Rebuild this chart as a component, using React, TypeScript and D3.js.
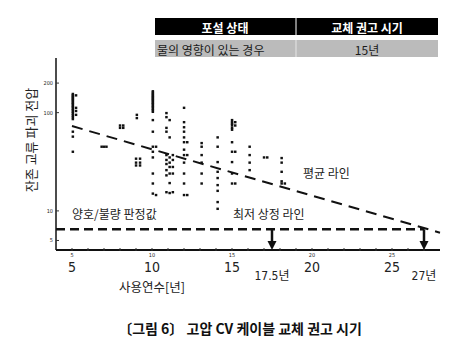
import React, { useRef, useEffect } from 'react';
import * as d3 from 'd3';

const W = 458;
const H = 351;
const font = "'Noto Sans CJK KR', 'Noto Sans', sans-serif";
const numFont = "'Liberation Sans Narrow', 'DejaVu Sans Condensed', 'Noto Sans CJK KR', sans-serif";

// table above the chart
const tableHeader = ['포설 상태', '교체 권고 시기'];
const tableRow = ['물의 영향이 있는 경우', '15년'];

// axes
const xTicks = [5, 10, 15, 20, 25];
const xMinor = [5, 6, 7, 8, 9, 10, 11, 12, 13, 14, 15, 16, 17, 18, 19, 20, 21, 22, 23, 24, 25, 26, 27];
const yTicks = [5, 10, 100, 200];
const xTitle = '사용연수[년]';
const yTitle = '잔존 교류 파괴 전압';

// replacement marks
const markYears = [17.5, 27];
const markLabels = ['17.5년', '27년'];

// measured points, one column per service year
const columnYears = [
	5.05, 5.25, 6.85, 7.0, 7.15, 8.0, 8.2, 9.05, 9.0, 9.25,
	10.05, 10.25, 10.9, 11.1, 11.3, 12.0, 12.2, 13.1, 14.1,
	15.0, 15.2, 16.1, 17.0, 17.2, 18.1, 18.3,
];
const columnValues = [
	[155, 150, 146, 142, 138, 134, 130, 126, 122, 118, 114, 110, 106, 102, 98, 94, 90, 86, 64, 57, 40],
	[150, 112, 104, 95],
	[45],
	[45],
	[45],
	[74, 70],
	[74, 70],
	[95, 88],
	[34, 31, 29],
	[34, 31, 29],
	[165, 160, 155, 150, 146, 142, 138, 134, 130, 126, 122, 118, 114, 110, 106, 102, 84, 64, 45, 40, 35, 24, 19, 15],
	[45, 14.5],
	[99, 90, 70, 64, 37, 33, 30, 26, 23, 15.5],
	[84, 56, 35, 31, 28, 24, 19.2, 15.2],
	[37, 33, 28, 24, 15.5],
	[112, 80, 71, 64, 56, 50, 42, 37, 31, 24, 19, 14.5],
	[50, 37, 14.5],
	[49, 45, 37, 31, 24, 19],
	[56, 45, 31.4, 25, 21.6, 18.3, 16, 12.3, 10.5],
	[84, 80, 77, 74, 70, 67, 50, 40, 31.4, 24, 19],
	[80, 74, 40, 19],
	[45, 37, 31, 26],
	[35],
	[35],
	[34.5, 31, 25, 20, 19],
	[19],
];

// average line and minimum threshold
const meanYears = [5, 28];
const meanValues = [73, 6.0];
const limitYears = [4, 27];
const limitValue = 6.5;

const notes = ['평균 라인', '최저 상정 라인', '양호/불량 판정값'];
const caption = '〔그림 6〕 고압 CV 케이블 교체 권고 시기';

const renderChart = (node) => {
	const svg = d3.select(node);
	svg.selectAll('*').remove();

	const x = d3.scaleLinear().domain([4, 28]).range([56, 440]);
	const y = d3.scaleLog().domain([4, 360]).range([250, 58]);

	// table
	const table = svg.append('g');
	table.append('rect').attr('x', 155).attr('y', 18).attr('width', 283).attr('height', 17).attr('fill', '#000');
	table.append('rect').attr('x', 155).attr('y', 40).attr('width', 283).attr('height', 17).attr('fill', '#bbbbbb');
	table.append('line').attr('x1', 296).attr('x2', 296).attr('y1', 18).attr('y2', 35)
		.attr('stroke', '#fff').attr('stroke-width', 1);
	table.append('line').attr('x1', 296).attr('x2', 296).attr('y1', 40).attr('y2', 57)
		.attr('stroke', '#e6e6e6').attr('stroke-width', 1);
	const colX = [225, 367];
	table.selectAll('text.h').data(tableHeader).join('text')
		.attr('x', (d, i) => colX[i]).attr('y', 27)
		.attr('text-anchor', 'middle').attr('dominant-baseline', 'central')
		.attr('font-family', font).attr('font-size', 12).attr('font-weight', 700)
		.attr('fill', '#fff').text((d) => d);
	table.selectAll('text.r').data(tableRow).join('text')
		.attr('x', (d, i) => (i === 0 ? 157 : colX[i])).attr('y', 49)
		.attr('text-anchor', (d, i) => (i === 0 ? 'start' : 'middle'))
		.attr('dominant-baseline', 'central')
		.attr('font-family', font).attr('font-size', 12)
		.attr('fill', '#1a1a1a').text((d) => d);

	// axes
	svg.append('line').attr('x1', x(4)).attr('x2', x(28)).attr('y1', 250).attr('y2', 250)
		.attr('stroke', '#111').attr('stroke-width', 2);
	svg.append('line').attr('x1', x(4)).attr('x2', x(4)).attr('y1', y(360)).attr('y2', 250)
		.attr('stroke', '#111').attr('stroke-width', 1.5);

	svg.selectAll('line.xm').data(xMinor).join('line')
		.attr('x1', (d) => x(d)).attr('x2', (d) => x(d))
		.attr('y1', 248).attr('y2', 251)
		.attr('stroke', '#333').attr('stroke-width', 1);
	svg.selectAll('text.xs').data(xTicks).join('text')
		.attr('x', (d) => x(d)).attr('y', 254.5)
		.attr('text-anchor', 'middle').attr('dominant-baseline', 'central')
		.attr('font-family', numFont).attr('font-size', 5.5).attr('fill', '#222')
		.text((d) => d);
	svg.selectAll('text.xl').data(xTicks).join('text')
		.attr('x', (d) => x(d)).attr('y', 266.5)
		.attr('text-anchor', 'middle').attr('dominant-baseline', 'central')
		.attr('font-family', numFont).attr('font-size', 14)
		.attr('fill', '#222').text((d) => d);

	svg.selectAll('line.yt').data(yTicks).join('line')
		.attr('x1', x(4)).attr('x2', x(4) + 3)
		.attr('y1', (d) => y(d)).attr('y2', (d) => y(d))
		.attr('stroke', '#333').attr('stroke-width', 1);
	svg.selectAll('text.yt').data(yTicks).join('text')
		.attr('x', 53).attr('y', (d) => y(d))
		.attr('text-anchor', 'end').attr('dominant-baseline', 'central')
		.attr('font-family', numFont).attr('font-size', 5.5).attr('fill', '#222')
		.text((d) => d);

	svg.append('text').attr('x', 152).attr('y', 286)
		.attr('text-anchor', 'middle').attr('dominant-baseline', 'central')
		.attr('font-family', font).attr('font-size', 12.5).attr('fill', '#222')
		.text(xTitle);
	svg.append('text').attr('transform', 'translate(30,140) rotate(-90)')
		.attr('text-anchor', 'middle').attr('dominant-baseline', 'central')
		.attr('font-family', font).attr('font-size', 13).attr('fill', '#222')
		.text(yTitle);

	// scatter
	const points = columnYears.flatMap((yr, i) => columnValues[i].map((v) => [yr, v]));
	svg.append('g').selectAll('rect').data(points).join('rect')
		.attr('x', (d) => x(d[0]) - 1.2).attr('y', (d) => y(d[1]) - 1.2)
		.attr('width', 2.5).attr('height', 2.4)
		.attr('fill', '#111');

	// average line
	const line = d3.line().x((d) => x(d[0])).y((d) => y(d[1]));
	svg.append('path')
		.attr('d', line(meanYears.map((yr, i) => [yr, meanValues[i]])))
		.attr('fill', 'none').attr('stroke', '#111').attr('stroke-width', 2)
		.attr('stroke-dasharray', '11 7');

	// threshold line
	svg.append('path')
		.attr('d', line(limitYears.map((yr) => [yr, limitValue])))
		.attr('fill', 'none').attr('stroke', '#111').attr('stroke-width', 2.5)
		.attr('stroke-dasharray', '9 5');

	// arrows
	const arrows = svg.append('g').selectAll('g').data(markYears).join('g');
	arrows.append('line')
		.attr('x1', (d) => x(d)).attr('x2', (d) => x(d))
		.attr('y1', y(limitValue)).attr('y2', 243)
		.attr('stroke', '#111').attr('stroke-width', 2.5);
	arrows.append('path')
		.attr('d', (d) => `M${ x(d) - 4.5 },241 L${ x(d) + 4.5 },241 L${ x(d) },250 Z`)
		.attr('fill', '#111');
	svg.selectAll('text.mk').data(markYears).join('text')
		.attr('x', (d) => x(d)).attr('y', 276)
		.attr('text-anchor', 'middle').attr('dominant-baseline', 'central')
		.attr('font-family', numFont).attr('font-size', 12)
		.attr('fill', '#222').text((d, i) => markLabels[i]);

	// notes
	const notePos = [[303, 172], [233, 213], [72, 213]];
	svg.selectAll('text.note').data(notes).join('text')
		.attr('x', (d, i) => notePos[i][0]).attr('y', (d, i) => notePos[i][1])
		.attr('dominant-baseline', 'central')
		.attr('font-family', font).attr('font-size', 12).attr('fill', '#222')
		.text((d) => d);

	// caption
	svg.append('text').attr('x', 240).attr('y', 328)
		.attr('text-anchor', 'middle').attr('dominant-baseline', 'central')
		.attr('font-family', font).attr('font-size', 14).attr('font-weight', 700)
		.attr('fill', '#111').text(caption);
};

const App = () => {
	const ref = useRef(null);

	useEffect(() => {
		renderChart(ref.current);
	}, []);

	return (
		<div style={ { position: 'absolute', left: 0, top: 0 } }>
			<svg ref={ ref } width={ W } height={ H } style={ { display: 'block', background: '#fff' } }/>
		</div>
	);
};

export default App;
